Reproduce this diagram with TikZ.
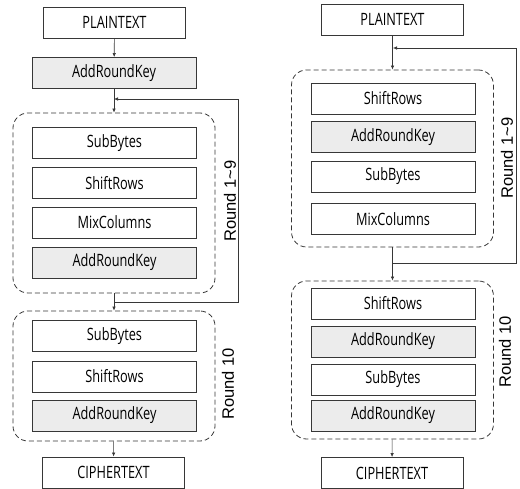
\documentclass[tikz,border=0pt]{standalone}
\usepackage{fontspec}
\usepackage{tikz}
\usetikzlibrary{arrows.meta}
\newfontfamily\boxfont[FakeStretch=0.75]{Open Sans}
\newfontfamily\labelfont{Liberation Sans}
\definecolor{linec}{RGB}{55,55,55}
\definecolor{keyfill}{RGB}{236,236,236}
\tikzset{
	stepbox/.style={draw=linec, line width=0.9pt, minimum width=164pt, minimum height=31pt, inner sep=0pt, font=\boxfont\fontsize{17}{20}\selectfont},
	keybox/.style={stepbox, fill=keyfill},
	endbox/.style={stepbox, minimum width=142pt},
	roundframe/.style={draw=linec, line width=0.8pt, dash pattern=on 5pt off 3pt, rounded corners=15pt, minimum width=202pt, inner sep=0pt},
	roundlabel/.style={rotate=90, font=\labelfont\fontsize{16.5}{18}\selectfont},
	flow/.style={draw=linec, line width=0.6pt, -{Latex[length=4pt,width=3.5pt]}},
}
\begin{document}
\begin{tikzpicture}[x=1pt,y=-1pt]
		\useasboundingbox (0,0) rectangle (520,489);
		% left: encryption order
		\node[endbox] (lpt) at (114.5,22.5) {PLAINTEXT};
		\node[keybox] (lark) at (114,73) {AddRoundKey};
		\node[roundframe, minimum height=180pt] (lrnd) at (114,203) {};
		\node[stepbox] (lsb) at (114.5,143) {SubBytes};
		\node[stepbox] (lsr) at (114.5,183) {ShiftRows};
		\node[stepbox] (lmc) at (114.5,222.5) {MixColumns};
		\node[keybox] (lkey) at (114.5,262.5) {AddRoundKey};
		\node[roundlabel] (lrndlab) at (230,201) {Round 1\textasciitilde9};
		\node[roundframe, minimum height=130pt] (llast) at (114,376) {};
		\node[stepbox] (lsbf) at (114.5,336) {SubBytes};
		\node[stepbox] (lsrf) at (114.5,376.5) {ShiftRows};
		\node[keybox] (lkeyf) at (114.5,415.5) {AddRoundKey};
		\node[roundlabel] (llastlab) at (228,384) {Round 10};
		\node[endbox] (lct) at (113.5,472.5) {CIPHERTEXT};
		\coordinate (lback) at (114,302);
		\coordinate (lin) at (114,99);
		\draw[flow] (lpt) -- (lark);
		\draw[flow] (lark) -- (lrnd);
		\draw[flow] (lrnd) -- (llast);
		\draw[flow] (llast) -- (lct);
		\draw[flow] (lback) -- (238,302) -- (238,99) -- (lin);

		% right: modified order
		\node[endbox] (rpt) at (392.5,19.5) {PLAINTEXT};
		\node[roundframe, minimum height=177pt] (rrnd) at (392.5,158.5) {};
		\node[stepbox] (rsr) at (393,98.5) {ShiftRows};
		\node[keybox] (rkey) at (393,137) {AddRoundKey};
		\node[stepbox] (rsb) at (393,176.5) {SubBytes};
		\node[stepbox] (rmc) at (393,219) {MixColumns};
		\node[roundlabel] (rrndlab) at (507,158) {Round 1\textasciitilde9};
		\node[roundframe, minimum height=158pt] (rlast) at (392.5,360) {};
		\node[stepbox] (rsrf) at (393,303.5) {ShiftRows};
		\node[keybox] (rkeyf) at (393,341.5) {AddRoundKey};
		\node[stepbox] (rsbf) at (393,379.5) {SubBytes};
		\node[keybox] (rkeyff) at (393,415.5) {AddRoundKey};
		\node[roundlabel] (rlastlab) at (505,352) {Round 10};
		\node[endbox] (rct) at (392,473) {CIPHERTEXT};
		\coordinate (rback) at (393,263);
		\coordinate (rin) at (393,48);
		\draw[flow] (rpt) -- (rrnd);
		\draw[flow] (rrnd) -- (rlast);
		\draw[flow] (rlast) -- (rct);
		\draw[flow] (rback) -- (516,263) -- (516,48) -- (rin);
\end{tikzpicture}
\end{document}
